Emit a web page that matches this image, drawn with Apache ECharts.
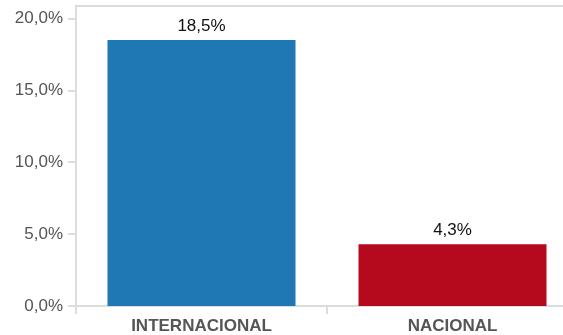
<!DOCTYPE html>
<html>
<head>
<meta charset="utf-8">
<script src="https://cdn.jsdelivr.net/npm/echarts@6/dist/echarts.min.js"></script>
<style>
  html, body { margin: 0; padding: 0; background: #fff; }
  #chart { width: 563px; height: 335px; }
</style>
</head>
<body>
<div id="chart"></div>
<script>
const categories = ['INTERNACIONAL', 'NACIONAL']
const values = [18.5, 4.3]
const barColors = ['#1f77b4', '#b5091e']
const yTicks = [0, 5, 10, 15, 20]

const fmt = v => v.toFixed(1).replace('.', ',') + '%'
const lineColor = '#dcdcdc'

const chart = echarts.init(document.getElementById('chart'))
const option = {
  animation: false,
  textStyle: { fontFamily: 'Liberation Sans, Arial, sans-serif' },
  // the plot runs a bit past the right edge of the picture
  grid: { left: 76, width: 502, top: 5.5, bottom: 29, outerBoundsMode: 'none' },
  xAxis: [
    {
      type: 'category',
      data: categories,
      axisLine: { lineStyle: { color: lineColor, width: 2 } },
      axisTick: { show: true, length: 8, lineStyle: { color: lineColor, width: 2 } },
      axisLabel: { color: '#555', fontSize: 17, fontWeight: 'bold', margin: 12 }
    },
    {
      type: 'category',
      position: 'top',
      data: categories,
      axisLine: { show: true, lineStyle: { color: lineColor, width: 2 } },
      axisTick: { show: false },
      axisLabel: { show: false }
    }
  ],
  yAxis: {
    type: 'value',
    min: 0,
    max: 20.9,
    axisLine: { show: true, lineStyle: { color: lineColor, width: 2 } },
    axisTick: { show: true, length: 8, customValues: yTicks, lineStyle: { color: lineColor, width: 2 } },
    axisLabel: { color: '#555', fontSize: 17, margin: 13, customValues: yTicks, formatter: v => fmt(v) },
    splitLine: { show: false }
  },
  series: [{
    type: 'bar',
    barWidth: 188,
    data: values.map((v, i) => ({ value: v, itemStyle: { color: barColors[i] } })),
    label: {
      show: true,
      position: 'top',
      distance: 5,
      color: '#111',
      fontSize: 17,
      formatter: p => fmt(p.value)
    }
  }]
}
chart.setOption(option)
</script>
</body>
</html>
